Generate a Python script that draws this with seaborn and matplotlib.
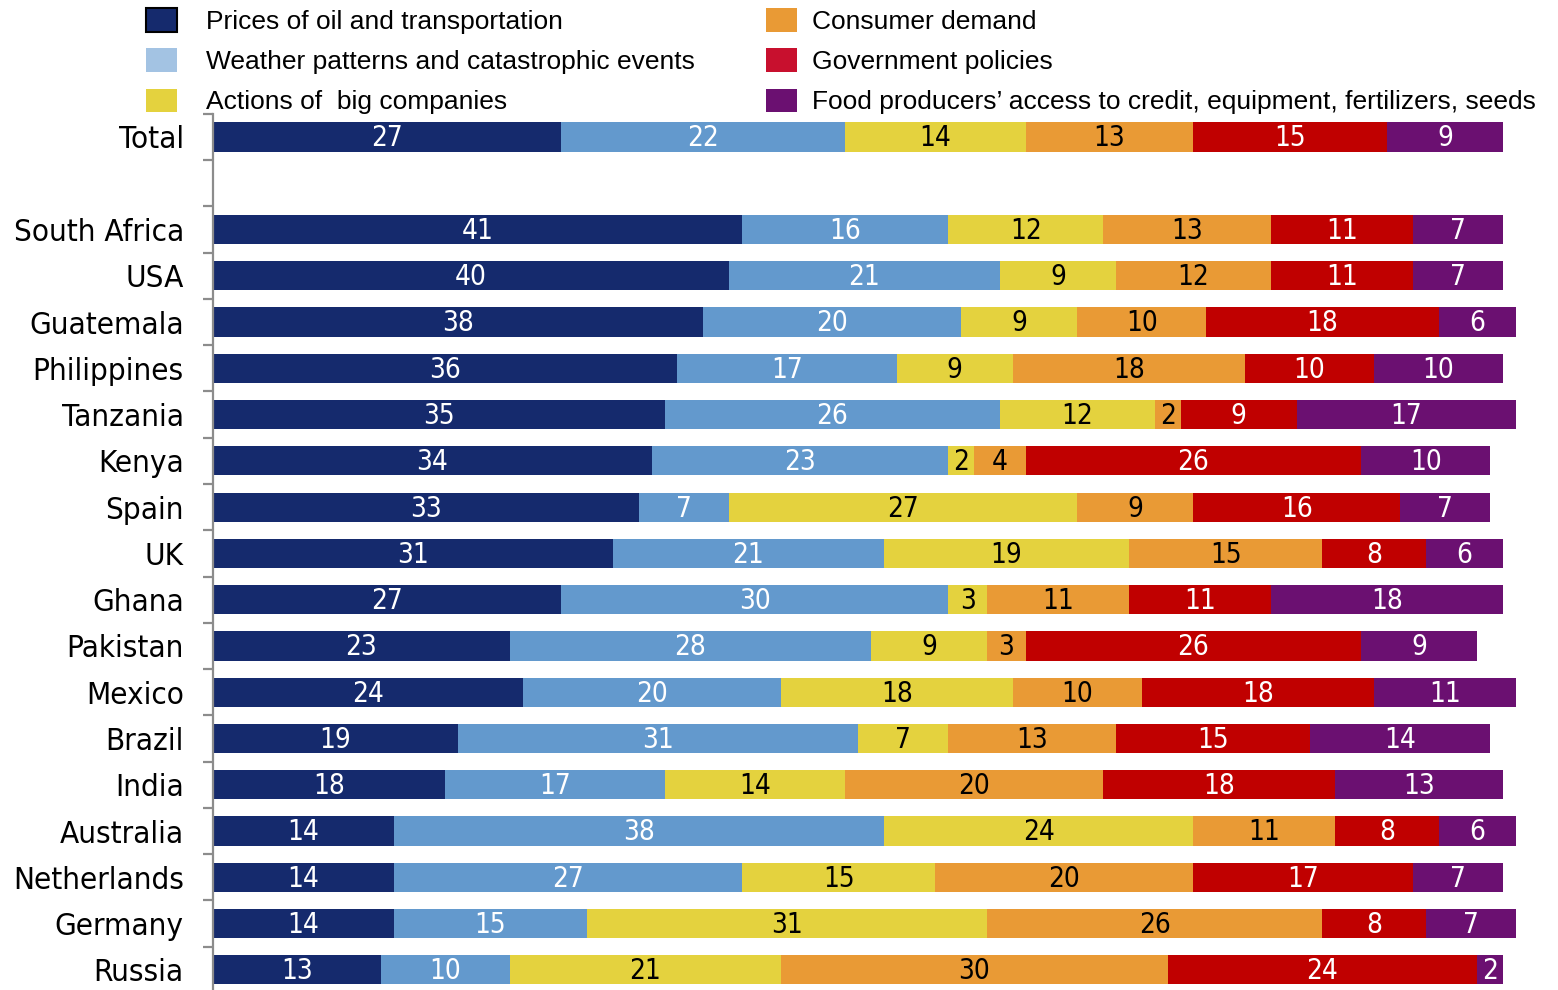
import numpy as np
import pandas as pd
import matplotlib
matplotlib.use("Agg")
import matplotlib.pyplot as plt
from matplotlib.patches import Patch
import seaborn as sns

# Survey rows, top to bottom ("" is an empty spacer row under Total)
countries = ["Total", "", "South Africa", "USA", "Guatemala", "Philippines",
             "Tanzania", "Kenya", "Spain", "UK", "Ghana", "Pakistan", "Mexico",
             "Brazil", "India", "Australia", "Netherlands", "Germany", "Russia"]

factors = ["Prices of oil and transportation",
           "Weather patterns and catastrophic events",
           "Actions of  big companies",
           "Consumer demand",
           "Government policies",
           "Food producers\u2019 access to credit, equipment, fertilizers, seeds"]

oil      = [27, None, 41, 40, 38, 36, 35, 34, 33, 31, 27, 23, 24, 19, 18, 14, 14, 14, 13]
weather  = [22, None, 16, 21, 20, 17, 26, 23, 7, 21, 30, 28, 20, 31, 17, 38, 27, 15, 10]
big_cos  = [14, None, 12, 9, 9, 9, 12, 2, 27, 19, 3, 9, 18, 7, 14, 24, 15, 31, 21]
consumer = [13, None, 13, 12, 10, 18, 2, 4, 9, 15, 11, 3, 10, 13, 20, 11, 20, 26, 30]
govt     = [15, None, 11, 11, 18, 10, 9, 26, 16, 8, 11, 26, 18, 15, 18, 8, 17, 8, 24]
access   = [9, None, 7, 7, 6, 10, 17, 10, 7, 6, 18, 9, 11, 14, 13, 6, 7, 7, 2]

bar_colors = ["#152a6d", "#6399cd", "#e4d23e", "#e99a35", "#c00000", "#6b1071"]
legend_colors = ["#152a6d", "#a3c3e3", "#e4d23e", "#e99a35", "#c8102e", "#6b1071"]
text_colors = ["white", "white", "black", "black", "white", "white"]

series = [oil, weather, big_cos, consumer, govt, access]
rows = [c for c in countries if c]
vals = pd.DataFrame({f: [v for v in s if v is not None] for f, s in zip(factors, series)},
                    index=rows)
cum = vals.cumsum(axis=1)

sns.set_theme(style="white")
plt.rcParams["font.family"] = ["Liberation Sans", "DejaVu Sans"]
narrow = dict(family=["DejaVu Sans"], fontstretch="condensed")

fig = plt.figure(figsize=(15.58, 9.9), dpi=100)
ax = fig.add_axes([0.1367, -0.003, 0.8446, 0.888])

# Stacked bars: draw cumulative totals from the right-most factor back to the first
for i in range(len(factors) - 1, -1, -1):
    df = pd.DataFrame({"country": rows, "value": cum.iloc[:, i].values})
    sns.barplot(data=df, x="value", y="country", order=countries, orient="h",
                color=bar_colors[i], saturation=1, width=0.63, linewidth=0,
                ax=ax)

# Segment value labels
pos = {c: k for k, c in enumerate(countries)}
for i, f in enumerate(factors):
    for c in rows:
        v = vals.loc[c, f]
        centre = cum.loc[c, f] - v / 2
        ax.text(centre, pos[c] + 0.03, f"{v:d}", ha="center", va="center",
                fontsize=20, color=text_colors[i], **narrow)

ax.set_xlim(0, 102)
ax.set_ylim(len(countries) - 0.5, -0.5)
ax.set_xlabel("")
ax.set_ylabel("")
ax.set_xticks([])

for side in ["top", "right", "bottom"]:
    ax.spines[side].set_visible(False)
ax.spines["left"].set_color("#8c8c8c")
ax.spines["left"].set_linewidth(1.6)

# Category names at row centres, tick marks at row boundaries
ax.set_yticks(range(len(countries)))
ax.set_yticklabels(countries, fontsize=22.5, color="black", **narrow)
ax.set_yticks(np.arange(-0.5, len(countries), 1.0), minor=True)
ax.tick_params(axis="y", which="major", length=0, pad=21)
ax.tick_params(axis="y", which="minor", length=7, width=1.6, color="#8c8c8c",
               direction="out", left=True)

# Two legend columns, each with its own spacing
handles = [Patch(facecolor=legend_colors[0], edgecolor="black", linewidth=1.5)]
handles += [Patch(facecolor=c, edgecolor="none") for c in legend_colors[1:]]
common = dict(loc="upper left", ncol=1, frameon=False, fontsize=19,
              handlelength=1.2, handleheight=1.0, labelspacing=0.55,
              borderpad=0, borderaxespad=0, labelcolor="black")
fig.legend(handles[:3], factors[:3], bbox_to_anchor=(0.0935, 0.992),
           handletextpad=1.1, **common)
fig.legend(handles[3:], factors[3:], bbox_to_anchor=(0.4915, 0.992),
           handletextpad=0.55, **common)

fig.savefig("out.png", dpi=100)
